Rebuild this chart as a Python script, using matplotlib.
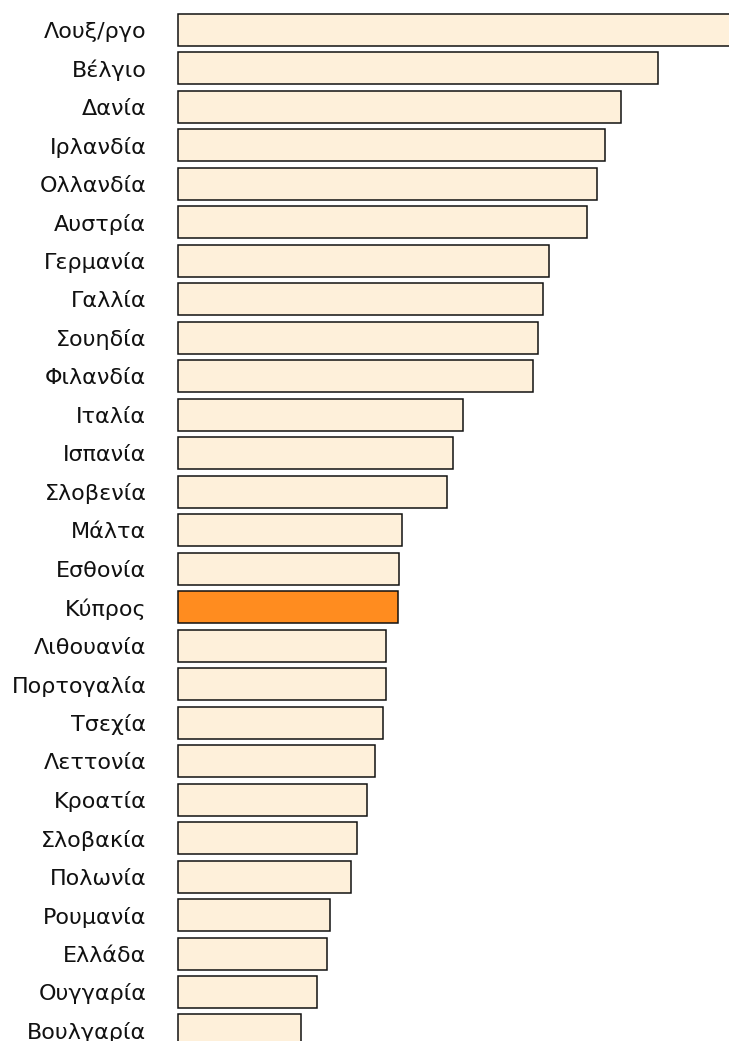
import matplotlib
matplotlib.use("Agg")
import matplotlib.pyplot as plt

countries = ["Λουξ/ργο", "Βέλγιο", "Δανία", "Ιρλανδία", "Ολλανδία", "Αυστρία",
             "Γερμανία", "Γαλλία", "Σουηδία", "Φιλανδία", "Ιταλία", "Ισπανία",
             "Σλοβενία", "Μάλτα", "Εσθονία", "Κύπρος", "Λιθουανία", "Πορτογαλία",
             "Τσεχία", "Λεττονία", "Κροατία", "Σλοβακία", "Πολωνία", "Ρουμανία",
             "Ελλάδα", "Ουγγαρία", "Βουλγαρία"]
values = [580, 480, 443, 427, 419, 409, 371, 365, 360, 355, 285, 275, 269,
          224, 221, 220, 208, 208, 205, 197, 189, 179, 173, 152, 149, 139, 123]
highlight = "Κύπρος"

W, H = 729, 1041
fig = plt.figure(figsize=(W/100, H/100), dpi=100)
left = 177/W
ax = fig.add_axes([left, 0, 1-left, 1])

colors = ["#FF8C1F" if c == highlight else "#FEF0DA" for c in countries]
pitch = 38.48
y = list(range(len(countries)))
ax.barh(y, values, height=32/pitch, color=colors, edgecolor="#111111", linewidth=1.1, left=0)
ax.set_xlim(-0.5, W - 177 - 0.5)
top_px = 30
ax.set_ylim(-top_px/pitch + H/pitch, -top_px/pitch)
ax.set_yticks(y)
ax.set_yticklabels(countries, fontsize=16, family=["DejaVu Sans"], color="#111111")
ax.tick_params(axis="y", length=0, pad=22)
ax.set_xticks([])
for s in ax.spines.values():
    s.set_visible(False)

fig.savefig("out.png", dpi=100)
